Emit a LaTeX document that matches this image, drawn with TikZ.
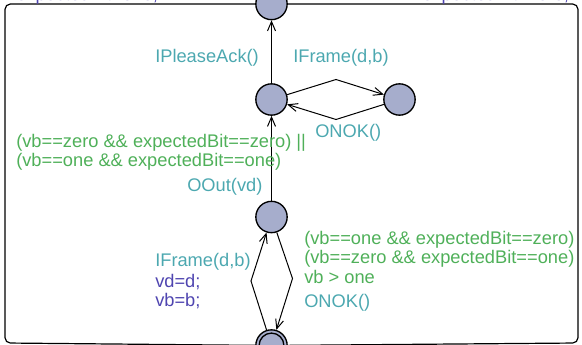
\documentclass[tikz,border=0pt]{standalone}
\usepackage{fontspec}
\setmainfont{Liberation Sans}
\usetikzlibrary{arrows.meta}
\definecolor{syncteal}{rgb}{0.30,0.66,0.69}
\definecolor{guardgreen}{rgb}{0.31,0.69,0.35}
\definecolor{assignblue}{rgb}{0.31,0.27,0.69}
\definecolor{locfill}{rgb}{0.65,0.68,0.80}

\begin{document}
\begin{tikzpicture}[
  x=0.75pt, y=-0.75pt,
  loc/.style={
    circle,
    draw,
    line width=1pt,
    fill=locfill,
    minimum size=23.5pt,
    inner sep=0pt,
  },
  trans/.style={draw, line width=0.75pt, -{Straight Barb[length=7pt, width=6pt]}},
  frameline/.style={draw, line width=0.9pt, rounded corners=4pt},
  lbl/.style={inner sep=0pt, anchor=base west, font=\fontsize{13.7}{14.5}\selectfont},
  sync/.style={lbl, text=syncteal},
  guard/.style={lbl, text=guardgreen},
  assign/.style={lbl, text=assignblue}
]

\useasboundingbox (0,0) rectangle (582,345);
\clip (0,0) rectangle (582,345);

% locations
\node[loc] (top)  at (271.5,4) {};
\node[loc] (wait) at (271.5,99.5) {};
\node[loc] (sent) at (399.5,99.5) {};
\node[loc] (recv) at (271.5,217) {};
\node[loc] (init) at (271.5,345.5) {};
\draw[line width=1pt] (init.center) circle (9.3pt);

% nails
\coordinate (nUp)    at (336,79.5);
\coordinate (nDown)  at (336,119.5);
\coordinate (nLeft)  at (251,281);
\coordinate (nRight) at (292.5,278.5);
\coordinate (cTL) at (5,4);
\coordinate (cBL) at (5,343);
\coordinate (cTR) at (578,4);
\coordinate (cBR) at (578,343);

% outer loop
\draw[frameline] (top) -- (cTL) -- (cBL) -- (init);
\draw[frameline] (top) -- (cTR) -- (cBR) -- (init);

% transitions
\draw[trans] (wait) -- (top);
\draw[trans] (wait) -- (nUp) -- (sent);
\draw[trans] (sent) -- (nDown) -- (wait);
\draw[trans] (recv) -- (wait);
\draw[trans] (init) -- (nLeft) -- (recv);
\draw[trans] (recv) -- (nRight) -- (init);

% labels
\node[assign] (asTopL) at (16,1) {expectedBit=one;};
\node[assign] (asTopR) at (422,1) {expectedBit=zero;};

\node[sync] (syPlease) at (155,62.5) {IPleaseAck()};
\node[sync] (syFrameA) at (293,62.5) {IFrame(d,b)};
\node[sync] (syNokA)   at (315,138) {ONOK()};

\node[guard] (gdOkA) at (16,148) {(vb==zero \&\& expectedBit==zero) ||};
\node[guard] (gdOkB) at (16,166.5) {(vb==one \&\& expectedBit==one)};
\node[sync]  (syOut) at (187,191.5) {OOut(vd)};

\node[sync]   (syFrameB) at (155,266.5) {IFrame(d,b)};
\node[assign] (asVd)     at (155,288) {vd=d;};
\node[assign] (asVb)     at (155,306) {vb=b;};

\node[guard] (gdBadA) at (304,244.5) {(vb==one \&\& expectedBit==zero)};
\node[guard] (gdBadB) at (304,263.5) {(vb==zero \&\& expectedBit==one)};
\node[guard] (gdBadC) at (304,284) {vb > one};
\node[sync]  (syNokB) at (304,308) {ONOK()};

\end{tikzpicture}
\end{document}
